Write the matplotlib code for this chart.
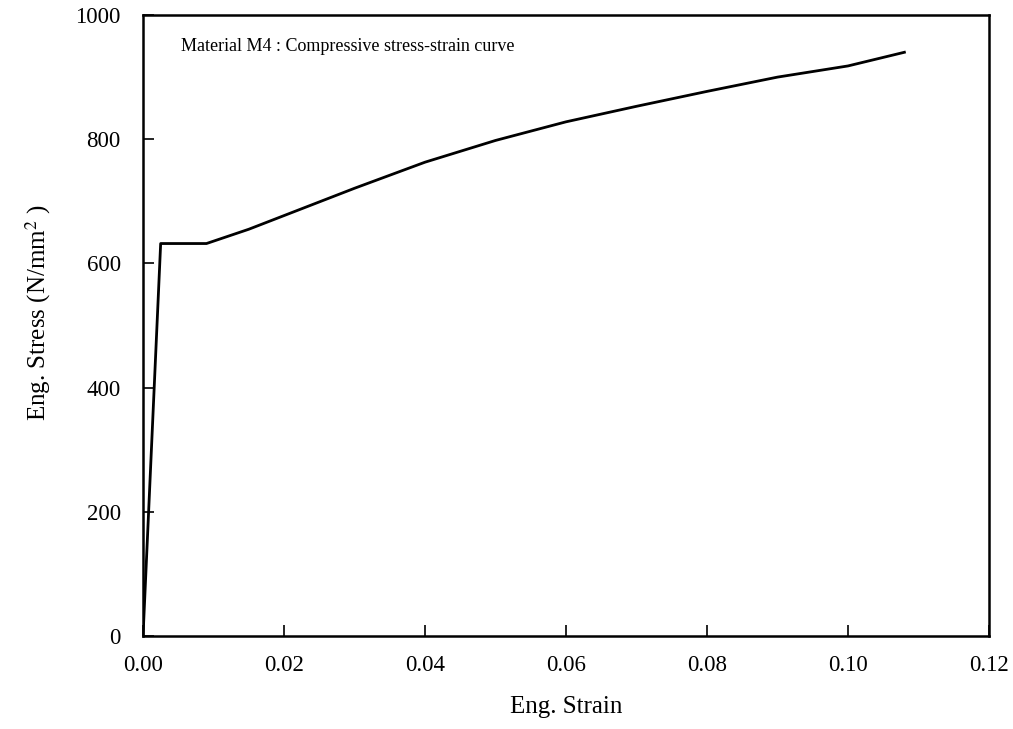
import matplotlib.pyplot as plt

# Compressive stress-strain data for material M4
strain = [0.0, 0.0025, 0.009, 0.015, 0.02, 0.03, 0.04, 0.05, 0.06, 0.07, 0.08, 0.09, 0.10, 0.108]
stress = [0, 632, 632, 655, 677, 721, 763, 798, 828, 853, 877, 900, 918, 940]

x_ticks = [0.00, 0.02, 0.04, 0.06, 0.08, 0.10, 0.12]
y_ticks = [0, 200, 400, 600, 800, 1000]

plt.rcParams['font.family'] = ['Liberation Serif', 'DejaVu Serif']
plt.rcParams['mathtext.fontset'] = 'stix'

fig = plt.figure(figsize=(10.13, 7.29), dpi=100)
ax = fig.add_axes([0.1412, 0.1276, 0.8351, 0.8518])

ax.plot(strain, stress, color='black', linewidth=2.0)

ax.set_xlim(0, 0.12)
ax.set_ylim(0, 1000)
ax.set_xticks(x_ticks)
ax.set_xticklabels(['%.2f' % t for t in x_ticks])
ax.set_yticks(y_ticks)
ax.set_yticklabels([str(t) for t in y_ticks])
ax.tick_params(direction='in', length=8, width=1.2, labelsize=16.5)
ax.tick_params(axis='x', pad=14)
ax.tick_params(axis='y', pad=16)

for s in ax.spines.values():
    s.set_linewidth(1.8)

ax.set_xlabel('Eng. Strain', fontsize=18, labelpad=14)
ax.set_ylabel(r'Eng. Stress (N/mm$^{2}$ )', fontsize=18)
ax.yaxis.set_label_coords(-0.107, 0.52)

ax.text(0.045, 0.95, 'Material M4 : Compressive stress-strain curve',
        transform=ax.transAxes, fontsize=13, va='center', ha='left')

fig.savefig('out.png', dpi=100)
